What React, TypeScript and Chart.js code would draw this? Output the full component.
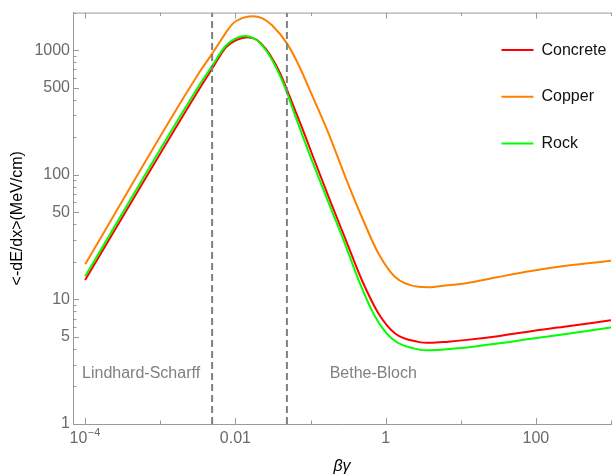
import React, { useEffect, useRef } from 'react';
import { Chart, registerables } from 'chart.js';

Chart.register(...registerables);

// ---- data (βγ, <-dE/dx> in MeV/cm) ----
const concreteBG = [1e-4, 0.00332, 0.00489, 0.00748, 0.01026, 0.01445, 0.01945, 0.02535, 0.03266, 0.04045, 0.04898, 0.06012, 0.08147, 0.105, 0.1746, 0.291, 0.482, 0.803, 1.337, 2.716, 3.92, 6.79, 11.3, 31.2, 86.1, 238, 1000];
const concreteVals = [14.3, 490, 708, 1055, 1205, 1269, 1205, 1021, 811, 631, 475, 347, 219, 146, 66.2, 30.6, 14.3, 7.71, 5.33, 4.56, 4.48, 4.58, 4.71, 5.07, 5.56, 6.02, 6.81];

const copperBG = [1e-4, 0.00332, 0.00489, 0.00733, 0.00916, 0.0123, 0.01687, 0.02265, 0.03097, 0.049, 0.070, 0.105, 0.1746, 0.291, 0.482, 0.803, 1.337, 2.716, 3.69, 6.79, 11.3, 31.2, 86.1, 238, 1000];
const copperVals = [19.1, 665, 933, 1358, 1624, 1807, 1871, 1807, 1574, 1122, 753, 433, 213, 95.9, 45.8, 23.3, 15.1, 12.6, 12.5, 13.0, 13.4, 15.1, 16.9, 18.5, 20.4];

const rockBG = [1e-4, 0.00332, 0.00489, 0.00748, 0.01026, 0.01361, 0.01828, 0.02535, 0.03266, 0.04045, 0.04898, 0.06012, 0.08147, 0.1, 0.166, 0.276, 0.4365, 0.726, 1.205, 2.716, 3.92, 11.3, 31.2, 86.1, 238, 1000];
const rockVals = [15.3, 525, 746, 1089, 1250, 1297, 1227, 1002, 781, 598, 449, 318, 193, 139, 64.1, 29.8, 14.3, 7.24, 4.86, 3.97, 3.90, 4.10, 4.42, 4.83, 5.26, 5.96];

const seriesNames = ['Concrete', 'Copper', 'Rock'];
const seriesColors = ['rgb(255,0,0)', 'rgb(255,128,0)', 'rgb(0,255,0)'];

const regionDividers = [0.0049, 0.0485];
const regionLabels = ['Lindhard-Scharff', 'Bethe-Bloch'];
const regionLabelBG = [9.1e-5, 0.18];
const regionLabelY = 2.56;

const xTickValues = [1e-4, 1e-3, 1e-2, 1e-1, 1, 10, 100, 1000];
const xTickLabels = ['10^-4', '', '0.01', '', '1', '', '100', ''];
const yTickValues = [1, 5, 10, 50, 100, 500, 1000];
const yTickLabels = ['1', '5', '10', '50', '100', '500', '1000'];

const X_MIN = 6.89e-5;
const X_MAX = 1000;
const Y_MIN = 1;
const Y_MAX = 2000;

const FONT = "'Liberation Sans', Arial, sans-serif";
const FRAME = '#9a9a9a';
const TICK_TEXT = '#6a6a6a';
const TICK_SIZE = 16;
const TICK_PAD = 5;

const pts = (xs: number[], ys: number[]) => xs.map((x, i) => ({ x, y: ys[i] }));

const yMinorTicks: number[] = [];
for (const d of [1, 10, 100, 1000]) {
  for (let m = 2; m <= 9; m++) {
    if (m !== 5 && d * m <= Y_MAX) yMinorTicks.push(d * m);
  }
}

const framePlugin = {
  id: 'frameTicks',
  afterDatasetsDraw(chart: any) {
    const { ctx, chartArea: a, scales } = chart;
    const x = scales.x;
    const y = scales.y;
    ctx.save();
    ctx.strokeStyle = FRAME;
    ctx.lineWidth = 1;
    const seg = (x1: number, y1: number, x2: number, y2: number) => {
      ctx.beginPath();
      ctx.moveTo(x1, y1);
      ctx.lineTo(x2, y2);
      ctx.stroke();
    };
    // top frame line
    seg(a.left, a.top + 0.5, a.right, a.top + 0.5);
    // x ticks (bottom and top, inward)
    xTickValues.forEach((v, i) => {
      const px = Math.round(x.getPixelForValue(v)) + 0.5;
      const len = xTickLabels[i] ? 6 : 3.5;
      seg(px, a.bottom, px, a.bottom - len);
      seg(px, a.top, px, a.top + len);
    });
    // y ticks (left, inward)
    yTickValues.forEach((v) => {
      const py = Math.round(y.getPixelForValue(v)) + 0.5;
      seg(a.left, py, a.left + 6, py);
    });
    yMinorTicks.forEach((v) => {
      const py = Math.round(y.getPixelForValue(v)) + 0.5;
      seg(a.left, py, a.left + 3.5, py);
    });

    // power-of-ten tick label (10 with superscript exponent)
    xTickLabels.forEach((t, i) => {
      if (!t.includes('^')) return;
      const [base, exp] = t.split('^');
      const expText = exp.replace('-', '\u2212');
      const cx = x.getPixelForValue(xTickValues[i]);
      const cy = a.bottom + TICK_PAD + (TICK_SIZE * 1.2) / 2;
      ctx.font = `${TICK_SIZE}px ${FONT}`;
      const wb = ctx.measureText(base).width;
      ctx.font = `11px ${FONT}`;
      const we = ctx.measureText(expText).width;
      const x0 = cx - (wb + we) / 2 - 0.5;
      ctx.fillStyle = TICK_TEXT;
      ctx.textBaseline = 'middle';
      ctx.textAlign = 'left';
      ctx.font = `${TICK_SIZE}px ${FONT}`;
      ctx.fillText(base, x0, cy);
      ctx.font = `11px ${FONT}`;
      ctx.fillText(expText, x0 + wb + 0.5, cy - 5.5);
    });

    // region labels
    ctx.fillStyle = '#808080';
    ctx.font = `16px ${FONT}`;
    ctx.textBaseline = 'middle';
    ctx.textAlign = 'left';
    regionLabels.forEach((t, i) => {
      ctx.fillText(t, x.getPixelForValue(regionLabelBG[i]), y.getPixelForValue(regionLabelY));
    });

    // legend
    const ds = chart.data.datasets.filter((d: any) => d.label);
    ds.forEach((d: any, i: number) => {
      const rowY = a.top + 37.5 + i * 46.7;
      ctx.strokeStyle = d.borderColor;
      ctx.lineWidth = 2;
      seg(a.right - 109.5, rowY, a.right - 77.5, rowY);
      ctx.fillStyle = '#111';
      ctx.fillText(d.label, a.right - 69.5, rowY);
    });
    ctx.restore();
  },
};

export default function App() {
  const ref = useRef<HTMLCanvasElement>(null);
  useEffect(() => {
    const curves = [
      { bg: concreteBG, v: concreteVals, order: 2 },
      { bg: copperBG, v: copperVals, order: 1 },
      { bg: rockBG, v: rockVals, order: 0 },
    ].map((s, i) => ({
      label: seriesNames[i],
      data: pts(s.bg, s.v),
      borderColor: seriesColors[i],
      backgroundColor: seriesColors[i],
      borderWidth: 2,
      pointRadius: 0,
      cubicInterpolationMode: 'monotone' as const,
      fill: false,
      order: s.order,
    }));
    const dividers = regionDividers.map((v) => ({
      label: '',
      data: [
        { x: v, y: Y_MIN },
        { x: v, y: Y_MAX },
      ],
      borderColor: '#7f7f7f',
      borderWidth: 2,
      borderDash: [7, 4],
      pointRadius: 0,
      fill: false,
      order: -1,
    }));

    const chart = new Chart(ref.current as HTMLCanvasElement, {
      type: 'line',
      data: { datasets: [...curves, ...dividers] as any },
      options: {
        animation: false,
        responsive: true,
        maintainAspectRatio: false,
        parsing: false as any,
        layout: { padding: { top: 11.7, right: 2.3, left: 0, bottom: 0 } },
        plugins: { legend: { display: false }, tooltip: { enabled: false } },
        scales: {
          x: {
            type: 'logarithmic',
            min: X_MIN,
            max: X_MAX,
            bounds: 'data',
            afterBuildTicks: (s: any) => {
              s.ticks = xTickValues.map((v) => ({ value: v }));
            },
            afterFit: (s: any) => {
              s.height = 52;
            },
            grid: { display: false, drawTicks: false },
            border: { display: true, color: FRAME, width: 1 },
            ticks: {
              autoSkip: false,
              maxRotation: 0,
              padding: TICK_PAD,
              color: TICK_TEXT,
              font: { family: FONT, size: TICK_SIZE },
              callback: (val: any) => {
                const i = xTickValues.findIndex((t) => Math.abs(Math.log10(t) - Math.log10(Number(val))) < 1e-6);
                if (i < 0) return '';
                const t = xTickLabels[i];
                return t.includes('^') ? '' : t;
              },
            },
            title: {
              display: true,
              text: 'βγ',
              color: '#000',
              font: { family: FONT, size: 16, style: 'italic' },
              padding: { top: 0, bottom: 0 },
            },
          },
          y: {
            type: 'logarithmic',
            min: Y_MIN,
            max: Y_MAX,
            bounds: 'data',
            afterBuildTicks: (s: any) => {
              s.ticks = yTickValues.map((v) => ({ value: v }));
            },
            afterFit: (s: any) => {
              s.width = 73;
            },
            grid: { display: false, drawTicks: false },
            border: { display: true, color: FRAME, width: 1 },
            ticks: {
              autoSkip: false,
              padding: 3,
              color: TICK_TEXT,
              font: { family: FONT, size: TICK_SIZE },
              callback: (val: any) => {
                const i = yTickValues.findIndex((t) => Math.abs(t - Number(val)) < 1e-6 * t);
                return i >= 0 ? yTickLabels[i] : '';
              },
            },
            title: {
              display: true,
              text: '<-dE/dx>(MeV/cm)',
              color: '#000',
              font: { family: FONT, size: 16 },
              padding: { top: 8.4, bottom: 0 },
            },
          },
        },
      } as any,
      plugins: [framePlugin],
    });
    return () => chart.destroy();
  }, []);

  return (
    <div style={{ position: 'absolute', left: 0, top: 0, width: 616, height: 476 }}>
      <canvas ref={ref} />
    </div>
  );
}
